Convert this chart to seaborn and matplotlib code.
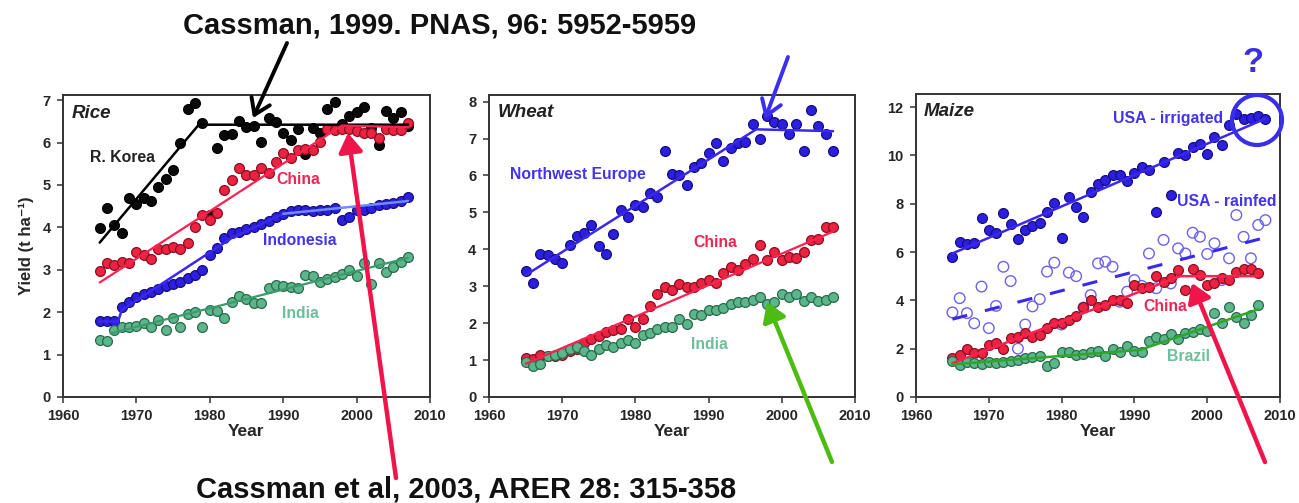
import numpy as np
import pandas as pd
import matplotlib
matplotlib.use("Agg")
import matplotlib.pyplot as plt
import seaborn as sns
from matplotlib.patches import FancyArrowPatch, Ellipse

# ---------------- data ----------------
years_43 = list(range(1965, 2008))
years_44 = list(range(1965, 2009))

# Rice
rice_korea = [3.99, 4.45, 4.05, 3.86, 4.68, 4.56, 4.68, 4.63, 4.96, 5.13,
              5.35, 6.00, 6.80, 6.94, 6.45, 4.30, 5.86, 6.18, 6.20, 6.50,
              6.37, 6.39, 6.02, 6.57, 6.49, 6.22, 6.06, 6.31, 5.74, 6.35,
              6.23, 6.80, 6.96, 6.44, 6.62, 6.72, 6.84, 6.35, 5.94, 6.75,
              6.58, 6.72, 6.38]
rice_china = [2.97, 3.16, 3.12, 3.19, 3.16, 3.42, 3.34, 3.25, 3.50, 3.50,
              3.54, 3.48, 3.63, 4.01, 4.29, 4.17, 4.34, 4.89, 5.11, 5.39,
              5.23, 5.23, 5.41, 5.27, 5.55, 5.76, 5.63, 5.82, 5.84, 5.82,
              6.02, 6.31, 6.29, 6.31, 6.33, 6.26, 6.22, 6.22, 6.10, 6.31,
              6.29, 6.29, 6.45]
rice_indonesia = [1.79, 1.79, 1.79, 2.12, 2.24, 2.36, 2.42, 2.48, 2.55, 2.62,
                  2.66, 2.72, 2.80, 2.88, 2.99, 3.34, 3.52, 3.74, 3.87, 3.90,
                  3.95, 4.00, 4.08, 4.15, 4.25, 4.32, 4.38, 4.40, 4.40, 4.38,
                  4.40, 4.42, 4.45, 4.18, 4.25, 4.40, 4.42, 4.45, 4.52, 4.55,
                  4.58, 4.62, 4.72]
rice_india = [1.34, 1.32, 1.58, 1.64, 1.66, 1.68, 1.74, 1.65, 1.82, 1.58,
              1.86, 1.65, 1.96, 2.01, 1.64, 2.05, 2.03, 1.86, 2.25, 2.38,
              2.30, 2.21, 2.22, 2.56, 2.64, 2.62, 2.60, 2.56, 2.87, 2.86,
              2.71, 2.79, 2.83, 2.91, 3.00, 2.85, 3.15, 2.66, 3.15, 2.95,
              3.07, 3.19, 3.30]
korea_trend_x = [1965, 1978.5, 2007]
korea_trend_y = [3.64, 6.42, 6.42]
china_rice_trend_x = [1965, 1998, 2007]
china_rice_trend_y = [2.70, 6.40, 6.36]
indo_trend1_x = [1965, 1967.5, 1968, 1983, 1990]
indo_trend1_y = [1.78, 1.78, 2.05, 3.75, 4.32]
indo_trend2_x = [1990, 2007]
indo_trend2_y = [4.32, 4.62]
india_rice_trend_x = [1966.5, 2007]
india_rice_trend_y = [1.50, 3.28]

# Wheat
wheat_nweurope = [3.41, 3.10, 3.87, 3.84, 3.75, 3.63, 4.13, 4.36, 4.45, 4.67,
                  4.10, 3.87, 4.41, 5.06, 4.88, 5.20, 5.15, 5.52, 5.42, 6.65,
                  6.04, 6.01, 5.74, 6.22, 6.33, 6.62, 6.87, 6.39, 6.74, 6.87,
                  6.92, 7.40, 6.98, 7.60, 7.46, 7.39, 7.12, 7.39, 6.67, 7.78,
                  7.34, 7.12, 6.65]
wheat_china = [1.06, 1.04, 1.15, 1.10, 1.10, 1.15, 1.25, 1.30, 1.45, 1.58,
               1.65, 1.76, 1.82, 1.85, 2.12, 1.90, 2.12, 2.46, 2.80, 2.98,
               2.91, 3.07, 2.98, 2.98, 3.09, 3.18, 3.09, 3.35, 3.53, 3.44,
               3.59, 3.75, 4.11, 3.71, 3.93, 3.71, 3.80, 3.77, 3.93, 4.25,
               4.27, 4.61, 4.61]
wheat_india = [0.95, 0.83, 0.90, 1.10, 1.15, 1.20, 1.30, 1.35, 1.25, 1.15,
               1.30, 1.40, 1.35, 1.45, 1.55, 1.45, 1.67, 1.72, 1.85, 1.90,
               1.90, 2.10, 1.99, 2.26, 2.21, 2.35, 2.35, 2.40, 2.53, 2.58,
               2.58, 2.62, 2.71, 2.53, 2.58, 2.78, 2.71, 2.78, 2.61, 2.71,
               2.60, 2.62, 2.71]
nwe_trend_x = [1965, 1996.5, 2007]
nwe_trend_y = [3.30, 7.25, 7.20]
china_wheat_trend_x = [1965, 2007]
china_wheat_trend_y = [0.90, 4.48]

# Maize
usa_irrigated = [5.81, 6.43, 6.33, 6.36, 7.39, 6.91, 6.80, 7.62, 7.18, 6.54,
                 6.91, 7.07, 7.21, 7.66, 8.01, 6.59, 8.28, 7.87, 7.46, 8.49,
                 8.83, 8.97, 9.18, 9.18, 8.93, 9.25, 9.52, 9.38, 7.66, 9.73,
                 8.38, 10.10, 10.00, 10.35, 10.46, 10.07, 10.76, 10.42, 11.24, 11.70,
                 11.52, 11.56, 11.61, 11.52]
usa_rainfed = [3.50, 4.09, 3.47, 3.05, 4.57, 2.85, 3.77, 5.39, 4.80, 2.00,
               3.00, 3.75, 4.05, 5.19, 5.56, 3.00, 5.15, 5.00, 3.70, 4.22,
               5.53, 5.60, 5.39, 3.94, 4.36, 4.84, 4.60, 5.94, 4.50, 6.50,
               4.70, 6.15, 5.94, 6.80, 6.63, 5.92, 6.36, 4.84, 5.74, 7.53,
               6.63, 5.74, 7.12, 7.32]
maize_china = [1.61, 1.75, 1.98, 1.82, 1.82, 2.16, 2.23, 1.98, 2.44, 2.50,
               2.64, 2.50, 2.57, 2.85, 3.05, 3.05, 3.19, 3.36, 3.74, 4.02,
               3.74, 3.81, 4.02, 4.02, 3.88, 4.64, 4.50, 4.57, 5.00, 4.77,
               4.91, 5.26, 4.43, 5.30, 5.05, 4.64, 4.71, 4.91, 4.84, 5.19,
               5.28, 5.28, 5.15]
maize_brazil = [1.47, 1.33, 1.45, 1.40, 1.35, 1.45, 1.40, 1.45, 1.50, 1.55,
                1.60, 1.65, 1.70, 1.27, 1.40, 1.85, 1.85, 1.75, 1.80, 1.85,
                1.90, 1.70, 2.00, 1.85, 2.10, 1.90, 1.85, 2.30, 2.50, 2.40,
                2.60, 2.40, 2.65, 2.70, 2.80, 2.75, 3.46, 3.05, 3.74, 3.32,
                3.05, 3.39, 3.80]
irr_trend_x = [1965, 2008]
irr_trend_y = [5.94, 11.52]
rain_trend_x = [1965, 2008]
rain_trend_y = [3.22, 6.60]
china_maize_trend_x = [1965, 1996.3, 2007]
china_maize_trend_y = [1.40, 5.00, 5.00]
brazil_trend_x = [1965, 1990.8, 2007]
brazil_trend_y = [1.35, 1.95, 3.63]

x_ticks = [1960, 1970, 1980, 1990, 2000, 2010]

# ---------------- style ----------------
sns.set_theme(style="white")
plt.rcParams['font.family'] = ['Liberation Sans', 'DejaVu Sans']
plt.rcParams['font.weight'] = 'bold'
plt.rcParams['axes.labelweight'] = 'bold'

BLACK = '#0a0a0a'
RED_F, RED_E, RED_L = '#ec2340', '#8c0f22', '#ff2150'
BLUE_F, BLUE_E, BLUE_L = '#2c1fe0', '#150f80', '#3a28f0'
GREEN_F, GREEN_E, GREEN_L = '#5bb68c', '#2a6b4b', '#3c9b6c'
LBL_BLUE, LBL_RED, LBL_GREEN = '#4433ee', '#ee2452', '#6cbf9a'

W, H = 1299, 503
fig = plt.figure(figsize=(W / 100, H / 100), dpi=100)
fig.patch.set_facecolor('white')


def fx(px):
    return px / W


def fy(py):
    return 1 - py / H


def make_ax(left, right, top, bottom, ymax, yticks):
    ax = fig.add_axes([fx(left), fy(bottom), (right - left) / W, (bottom - top) / H])
    ax.set_xlim(1960, 2010)
    ax.set_ylim(0, ymax)
    ax.set_xticks(x_ticks)
    ax.set_yticks(yticks)
    ax.tick_params(axis='both', direction='out', length=4, width=1.1,
                   labelsize=10.5, color='#333333', pad=5, bottom=True, left=True)
    for lab in ax.get_xticklabels() + ax.get_yticklabels():
        lab.set_fontweight('bold')
    for sp in ax.spines.values():
        sp.set_color('#333333')
        sp.set_linewidth(1.4)
    ax.set_xlabel('Year', fontsize=12.5, fontweight='bold', labelpad=0)
    ax.set_ylabel('')
    return ax


def dots(ax, x, y, fc, ec, s=50, lw=0.9, z=3):
    sns.scatterplot(x=x, y=y, ax=ax, color=fc, edgecolor=ec, s=s,
                    linewidth=lw, legend=False, zorder=z)


def open_dots(ax, x, y, ec, s=58, lw=1.0, z=2):
    sns.scatterplot(x=x, y=y, ax=ax, facecolor='none', edgecolor=ec, s=s,
                    linewidth=lw, legend=False, zorder=z)
    ax.collections[-1].set_facecolor('none')


def trend(ax, x, y, color, lw=1.6, ls='-', z=4):
    sns.lineplot(x=x, y=y, ax=ax, color=color, linewidth=lw, linestyle=ls,
                 sort=False, estimator=None, legend=False, zorder=z)


# ---------------- Rice ----------------
ax1 = make_ax(63, 430, 95, 397, 7.12, list(range(0, 8)))
dots(ax1, years_43, rice_korea, BLACK, '#000000')
trend(ax1, korea_trend_x, korea_trend_y, '#000000', lw=1.8)
dots(ax1, years_43, rice_china, RED_F, RED_E)
trend(ax1, china_rice_trend_x, china_rice_trend_y, RED_L)
dots(ax1, years_43, rice_indonesia, BLUE_F, BLUE_E)
trend(ax1, indo_trend1_x, indo_trend1_y, BLUE_L, lw=1.8)
trend(ax1, indo_trend2_x, indo_trend2_y, '#6f8cff', lw=1.8)
dots(ax1, years_43, rice_india, GREEN_F, GREEN_E)
trend(ax1, india_rice_trend_x, india_rice_trend_y, GREEN_L)
ax1.set_ylabel('Yield (t ha⁻¹)', fontsize=12, fontweight='bold', labelpad=6)
ax1.text(1961.2, 6.69, 'Rice', fontsize=13.5, fontweight='bold', style='italic',
         color='#222222', ha='left', va='center')
ax1.text(1963.7, 5.64, 'R. Korea', fontsize=11.3, fontweight='bold', color='#222222',
         ha='left', va='center')
ax1.text(1992.0, 5.12, 'China', fontsize=11.3, fontweight='bold', color=LBL_RED,
         ha='center', va='center')
ax1.text(1992.2, 3.68, 'Indonesia', fontsize=11.3, fontweight='bold', color=LBL_BLUE,
         ha='center', va='center')
ax1.text(1992.4, 1.97, 'India', fontsize=11.3, fontweight='bold', color=LBL_GREEN,
         ha='center', va='center')

# ---------------- Wheat ----------------
ax2 = make_ax(489, 855, 95, 397, 8.18, list(range(0, 9)))
dots(ax2, years_43, wheat_nweurope, BLUE_F, BLUE_E)
trend(ax2, nwe_trend_x, nwe_trend_y, BLUE_L, lw=1.8)
dots(ax2, years_43, wheat_india, GREEN_F, GREEN_E, z=3)
dots(ax2, years_43, wheat_china, RED_F, RED_E, z=2.5)
trend(ax2, china_wheat_trend_x, china_wheat_trend_y, RED_L)
ax2.text(1961.2, 7.70, 'Wheat', fontsize=13.5, fontweight='bold', style='italic',
         color='#222222', ha='left', va='center')
ax2.text(1972.1, 6.02, 'Northwest Europe', fontsize=11.3, fontweight='bold',
         color=LBL_BLUE, ha='center', va='center')
ax2.text(1990.9, 4.18, 'China', fontsize=11.3, fontweight='bold', color=LBL_RED,
         ha='center', va='center')
ax2.text(1990.1, 1.43, 'India', fontsize=11.3, fontweight='bold', color=LBL_GREEN,
         ha='center', va='center')

# ---------------- Maize ----------------
ax3 = make_ax(916, 1280, 94, 397, 12.54, list(range(0, 13, 2)))
open_dots(ax3, years_44, usa_rainfed, '#6a62f2')
trend(ax3, rain_trend_x, rain_trend_y, BLUE_L, lw=2.2, ls=(0, (5.0, 6.0)))
dots(ax3, years_44, usa_irrigated, BLUE_F, BLUE_E)
trend(ax3, irr_trend_x, irr_trend_y, BLUE_L, lw=1.8)
dots(ax3, years_43, maize_china, RED_F, RED_E)
trend(ax3, china_maize_trend_x, china_maize_trend_y, RED_L, lw=1.8)
dots(ax3, years_43, maize_brazil, GREEN_F, GREEN_E)
trend(ax3, brazil_trend_x, brazil_trend_y, '#2fa52a', lw=1.8)
ax3.text(1961.0, 11.80, 'Maize', fontsize=13.5, fontweight='bold', style='italic',
         color='#222222', ha='left', va='center')
ax3.text(1994.66, 11.53, 'USA - irrigated', fontsize=11.3, fontweight='bold',
         color=LBL_BLUE, ha='center', va='center')
ax3.text(2002.7, 8.08, 'USA - rainfed', fontsize=11.3, fontweight='bold',
         color=LBL_BLUE, ha='center', va='center')
ax3.text(1994.3, 3.74, 'China', fontsize=11.3, fontweight='bold', color=LBL_RED,
         ha='center', va='center')
ax3.text(1997.4, 1.67, 'Brazil', fontsize=11.3, fontweight='bold', color=LBL_GREEN,
         ha='center', va='center')

# ---------------- annotations (figure level) ----------------
fig.text(fx(440), fy(25), 'Cassman, 1999. PNAS, 96: 5952-5959', fontsize=21,
         fontweight='bold', color='#111111', ha='center', va='center')
fig.text(fx(466), fy(490), 'Cassman et al, 2003, ARER 28: 315-358', fontsize=21,
         fontweight='bold', color='#111111', ha='center', va='center')


def arrow(p0, p1, color, lw=3.0, style='-|>,head_length=0.7,head_width=0.45', ms=16):
    a = FancyArrowPatch((fx(p0[0]), fy(p0[1])), (fx(p1[0]), fy(p1[1])),
                        transform=fig.transFigure, arrowstyle=style,
                        mutation_scale=ms, lw=lw, color=color,
                        shrinkA=0, shrinkB=0, zorder=10)
    fig.add_artist(a)


arrow((287, 43), (253, 118), '#000000', lw=2.8, style='->,head_length=0.6,head_width=0.4', ms=18)
arrow((788, 57), (765, 119), '#3a2ef0', lw=2.8, style='->,head_length=0.6,head_width=0.4', ms=18)
arrow((396, 478), (348, 133), '#f0144a', lw=3.2)
arrow((832, 462), (767, 302), '#4cbc12', lw=3.2)
arrow((1265, 462), (1192, 283), '#f0144a', lw=3.2)

circ = Ellipse((fx(1257), fy(120)), width=50 / W, height=50 / H,
               transform=fig.transFigure, facecolor='none', edgecolor='#3a2ee8',
               linewidth=3.0, zorder=10)
fig.add_artist(circ)
fig.text(fx(1253), fy(63), '?', fontsize=25, color='#3a30e0', ha='center',
         va='center', fontweight='bold')

fig.savefig('out.png', dpi=100, facecolor='white')
